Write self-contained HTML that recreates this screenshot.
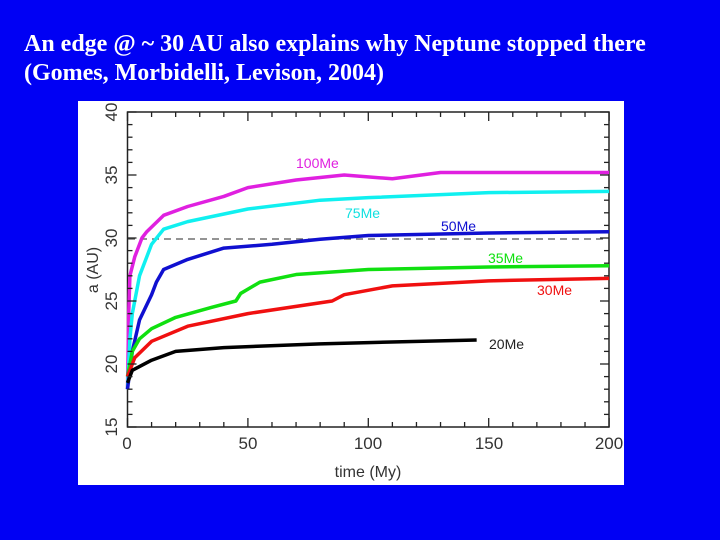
<!DOCTYPE html>
<html><head><meta charset="utf-8"><style>
body{margin:0;width:720px;height:540px;background:#0000f4;overflow:hidden;position:relative;font-family:"Liberation Serif",serif}
.t{position:absolute;left:24px;color:#fff;font-weight:bold;font-size:24px;white-space:nowrap;line-height:28px}
</style></head><body>
<div class="t" style="top:30px">An edge @ ~ 30 AU also explains why Neptune stopped there</div>
<div class="t" style="top:59px">(Gomes, Morbidelli, Levison, 2004)</div>
<svg width="720" height="540" style="position:absolute;left:0;top:0">
<rect x="78" y="101" width="546" height="384" fill="#fff"/>
<g stroke="#222" stroke-width="1.5" fill="none">
<rect x="127.5" y="112" width="481.5" height="315"/>
</g>
<g font-family="Liberation Sans,sans-serif" font-size="17" fill="#333">
<text x="127" y="449" text-anchor="middle">0</text>
<text x="248" y="449" text-anchor="middle">50</text>
<text x="368" y="449" text-anchor="middle">100</text>
<text x="489" y="449" text-anchor="middle">150</text>
<text x="609" y="449" text-anchor="middle">200</text>
<text x="368" y="477" text-anchor="middle" font-size="16">time  (My)</text>
<text transform="translate(117,427) rotate(-90)" text-anchor="middle">15</text>
<text transform="translate(117,364) rotate(-90)" text-anchor="middle">20</text>
<text transform="translate(117,301) rotate(-90)" text-anchor="middle">25</text>
<text transform="translate(117,238) rotate(-90)" text-anchor="middle">30</text>
<text transform="translate(117,175) rotate(-90)" text-anchor="middle">35</text>
<text transform="translate(117,112) rotate(-90)" text-anchor="middle">40</text>
<text transform="translate(98,270) rotate(-90)" text-anchor="middle" font-size="16">a  (AU)</text>
</g>
<line x1="128" y1="239" x2="609" y2="239" stroke="#555" stroke-width="1.2" stroke-dasharray="7,5"/>
<g transform="matrix(2.408,0,0,-12.6,127.5,616)" fill="none" stroke-width="3.5" stroke-linejoin="round">
<polyline vector-effect="non-scaling-stroke" stroke="#e020e0" points="0,18 0.5,24 1,27 3,28.5 6,30 8,30.5 15,31.8 25,32.5 40,33.3 50,34 70,34.6 90,35 110,34.7 130,35.2 200,35.2"/>
<polyline vector-effect="non-scaling-stroke" stroke="#10f0f0" points="0,18 1,22 2,24 5,27 10,29.5 15,30.7 25,31.3 50,32.3 80,33 100,33.2 150,33.6 200,33.7"/>
<polyline vector-effect="non-scaling-stroke" stroke="#1010d0" points="0,18 2,21 5,23.5 10,25.5 12,26.5 15,27.5 25,28.3 40,29.2 60,29.5 80,29.9 100,30.2 150,30.4 200,30.5"/>
<polyline vector-effect="non-scaling-stroke" stroke="#10e010" points="0,19 2,21 5,22 10,22.8 20,23.7 35,24.5 45,25 47,25.6 55,26.5 70,27.1 100,27.5 150,27.7 200,27.8"/>
<polyline vector-effect="non-scaling-stroke" stroke="#f01010" points="0,19 3,20.5 10,21.8 25,23 50,24 85,25 90,25.5 110,26.2 150,26.6 200,26.8"/>
<polyline vector-effect="non-scaling-stroke" stroke="#000" points="0,18.5 2,19.5 10,20.3 20,21 40,21.3 80,21.6 100,21.7 145,21.9"/>
</g>
<g font-family="Liberation Sans,sans-serif" font-size="14">
<text x="296" y="168" fill="#e020e0">100Me</text>
<text x="345" y="218" fill="#10e0e0">75Me</text>
<text x="441" y="231" fill="#1010d0">50Me</text>
<text x="488" y="263" fill="#10e010">35Me</text>
<text x="537" y="295" fill="#f01010">30Me</text>
<text x="489" y="349" fill="#222">20Me</text>
</g>
<g id="ticks" stroke="#222" stroke-width="1.3"></g>
</svg>
<script>
var g=document.getElementById('ticks'),s='';
for(var t=0;t<=200;t+=10){var x=127.5+2.408*t,l=t%50?5:9;s+='<line x1="'+x+'" y1="427" x2="'+x+'" y2="'+(427-l)+'"/><line x1="'+x+'" y1="112" x2="'+x+'" y2="'+(112+l)+'"/>';}
for(var v=15;v<=40;v++){var y=616-12.6*v,l=v%5?5:9;s+='<line x1="127.5" y1="'+y+'" x2="'+(127.5+l)+'" y2="'+y+'"/><line x1="609" y1="'+y+'" x2="'+(609-l)+'" y2="'+y+'"/>';}
g.innerHTML=s;
</script>
</body></html>
